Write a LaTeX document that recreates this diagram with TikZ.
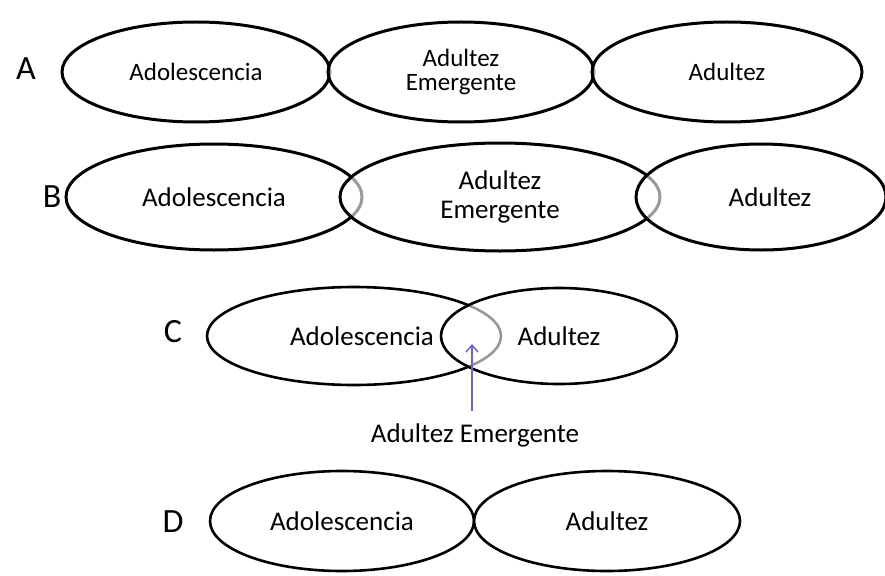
\documentclass[tikz,border=0pt]{standalone}
\usepackage{fontspec}
\setmainfont{Carlito}
\usetikzlibrary{shapes.geometric,arrows.meta}
\begin{document}
\begin{tikzpicture}[x=1pt,y=-1pt,
  stage/.style={ellipse,draw=black,line width=3pt,fill=white,fill opacity=0.6,text opacity=1,inner sep=0pt,align=center,font=\fontsize{25}{26}\selectfont},
  rowlabel/.style={font=\fontsize{34}{36}\selectfont,inner sep=0pt},
  pointer/.style={draw={rgb,255:red,112;green,96;blue,192},line width=1.4pt,-{Straight Barb[length=7pt,width=12pt]}}]
\useasboundingbox[fill=white] (0,0) rectangle (885,575);
% Row A
\node[rowlabel] (la) at (26,69) {A};
\node[stage,minimum width=268pt,minimum height=100pt] (a1) at (196,72) {Adolescencia};
\node[stage,minimum width=266pt,minimum height=100pt] (a2) at (461,72) {Adultez\\[-2pt]Emergente};
\node[stage,minimum width=270pt,minimum height=100pt] (a3) at (727,72) {Adultez};
% Row B
\node[rowlabel] (lb) at (52,197) {B};
\node[stage,minimum width=296pt,minimum height=106pt,font=\fontsize{27}{29}\selectfont] (b1) at (214,197) {Adolescencia};
\node[stage,minimum width=320pt,minimum height=108pt,font=\fontsize{27}{29}\selectfont] (b2) at (500,197) {Adultez\\Emergente};
\node[stage,minimum width=250pt,minimum height=106pt,font=\fontsize{27}{29}\selectfont] (b3) at (761,197) {\hspace*{18pt}Adultez};
% Row C
\node[rowlabel] (lc) at (173,332) {C};
\node[stage,line width=2.6pt,minimum width=294pt,minimum height=98pt,font=\fontsize{27}{29}\selectfont] (c1) at (354,336) {\hspace*{16pt}Adolescencia};
\node[stage,line width=2.6pt,minimum width=236pt,minimum height=96pt,font=\fontsize{27}{29}\selectfont] (c2) at (559,336) {Adultez};
\node[font=\fontsize{27}{29}\selectfont,inner sep=0pt] (ce) at (475,435) {Adultez Emergente};
\coordinate (ov) at (472,344);
\draw[pointer] (472,411) -- (ov);
% Row D
\node[rowlabel] (ld) at (173,522) {D};
\node[stage,line width=2.6pt,minimum width=264pt,minimum height=100pt,font=\fontsize{27}{29}\selectfont] (d1) at (342,521) {Adolescencia};
\node[stage,line width=2.6pt,minimum width=266pt,minimum height=100pt,font=\fontsize{27}{29}\selectfont] (d2) at (607,521) {Adultez};
\end{tikzpicture}
\end{document}
